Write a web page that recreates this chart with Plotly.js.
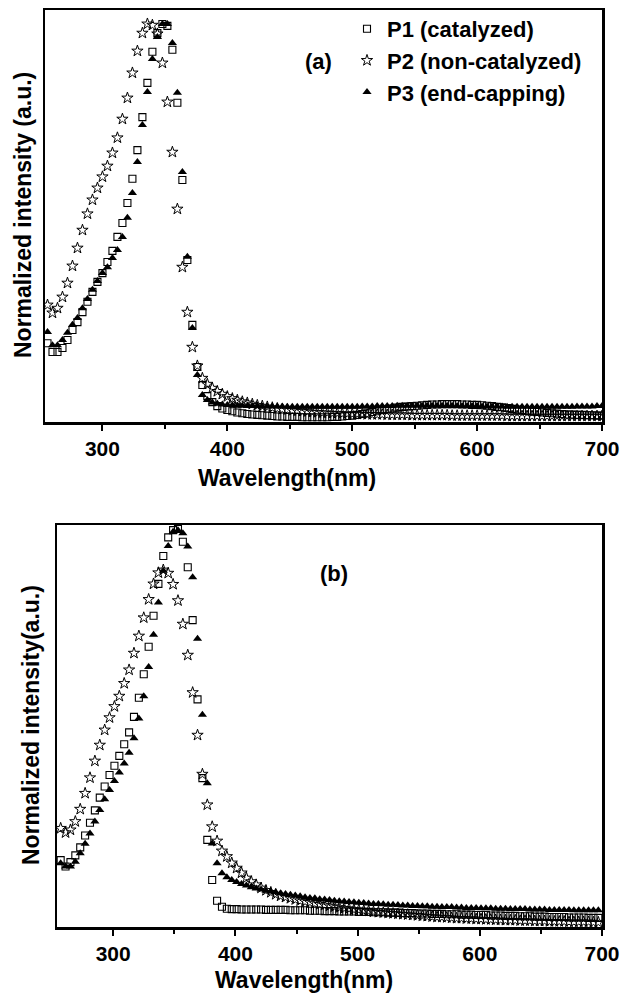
<!DOCTYPE html>
<html>
<head>
<meta charset="utf-8">
<script src="https://cdn.plot.ly/plotly-3.0.1.min.js"></script>
<style>html,body{margin:0;padding:0;background:#fff;}#chart{width:623px;height:994px;}</style>
</head>
<body>
<div id="chart"></div>
<script>
// ---- Panel (a) wavelengths (nm) ----
var waveA = [256,260,264,268,272,276,280,284,288,292,
  296,300,304,308,312,316,320,324,328,332,
  336,340,344,348,352,356,360,364,368,372,
  376,380,384,388,392,396,400,404,408,412,
  416,420,424,428,432,436,440,444,448,452,
  456,460,464,468,472,476,480,484,488,492,
  496,500,504,508,512,516,520,524,528,532,
  536,540,544,548,552,556,560,564,568,572,
  576,580,584,588,592,596,600,604,608,612,
  616,620,624,628,632,636,640,644,648,652,
  656,660,664,668,672,676,680,684,688,692,
  696,700];
var p1A = [.198,.176,.176,.186,.206,.231,.251,.276,.302,.327,
  .352,.374,.402,.430,.465,.500,.550,.611,.683,.766,
  .852,.930,.977,1.0,.995,.935,.802,.608,.407,.244,
  .138,.093,.065,.050,.040,.034,.030,.027,.024,.022,
  .020,.019,.018,.017,.016,.015,.014,.014,.013,.013,
  .013,.012,.012,.012,.012,.012,.012,.013,.013,.014,
  .015,.016,.018,.020,.022,.025,.027,.030,.032,.034,
  .036,.038,.039,.040,.041,.042,.043,.044,.044,.045,
  .045,.045,.045,.044,.044,.043,.043,.042,.041,.040,
  .038,.037,.035,.033,.031,.030,.028,.026,.025,.024,
  .023,.022,.021,.020,.019,.019,.018,.018,.017,.017,
  .016,.016];
var p2A = [.294,.274,.286,.314,.349,.392,.437,.482,.523,.558,
  .588,.616,.643,.676,.714,.761,.814,.877,.932,.977,
  1.0,.997,.975,.902,.804,.678,.535,.389,.276,.188,
  .141,.110,.095,.085,.077,.070,.064,.059,.055,.051,
  .048,.045,.042,.040,.038,.036,.034,.032,.031,.029,
  .028,.027,.026,.025,.024,.023,.023,.022,.022,.021,
  .021,.020,.020,.020,.019,.019,.019,.019,.018,.018,
  .018,.018,.018,.017,.017,.017,.017,.017,.017,.017,
  .017,.016,.016,.016,.016,.016,.016,.016,.016,.016,
  .016,.016,.015,.015,.015,.015,.015,.015,.015,.015,
  .015,.015,.015,.015,.015,.015,.015,.015,.015,.015,
  .015,.015];
var p3A = [.226,.193,.193,.206,.224,.244,.261,.286,.309,.332,
  .354,.374,.389,.412,.432,.465,.513,.575,.653,.746,
  .829,.912,.967,1.0,1.0,.952,.827,.628,.415,.236,
  .118,.068,.055,.049,.046,.044,.043,.042,.041,.041,
  .040,.040,.040,.039,.039,.039,.039,.039,.038,.038,
  .038,.038,.038,.038,.038,.038,.038,.038,.038,.038,
  .038,.038,.038,.039,.039,.039,.040,.040,.040,.040,
  .041,.041,.041,.041,.041,.041,.041,.041,.041,.041,
  .041,.041,.040,.040,.040,.040,.040,.039,.039,.039,
  .039,.039,.038,.038,.038,.038,.038,.038,.038,.038,
  .038,.038,.038,.038,.038,.038,.039,.039,.039,.039,
  .040,.040];

// ---- Panel (b) wavelengths (nm) ----
var waveB = [257,261,265,269,273,277,281,285,289,293,
  297,301,305,309,313,317,321,325,329,333,
  337,341,345,349,353,357,361,365,369,373,
  377,381,385,389,393,397,401,405,409,413,
  417,421,425,429,433,437,441,445,449,453,
  457,461,465,469,473,477,481,485,489,493,
  497,501,505,509,513,517,521,525,529,533,
  537,541,545,549,553,557,561,565,569,573,
  577,581,585,589,593,597,601,605,609,613,
  617,621,625,629,633,637,641,645,649,653,
  657,661,665,669,673,677,681,685,689,693,
  697];
var p1B = [.168,.152,.163,.180,.200,.230,.262,.293,.325,.353,
  .382,.405,.430,.459,.489,.528,.576,.635,.704,.782,
  .862,.932,.979,.997,1.0,.968,.904,.771,.572,.374,
  .219,.118,.066,.051,.046,.045,.045,.044,.044,.044,
  .044,.044,.043,.043,.043,.043,.043,.042,.042,.042,
  .042,.041,.041,.041,.040,.040,.040,.039,.039,.039,
  .039,.038,.038,.038,.037,.037,.037,.036,.036,.036,
  .035,.035,.035,.034,.034,.034,.033,.033,.033,.032,
  .032,.032,.031,.031,.031,.030,.030,.030,.029,.029,
  .029,.028,.028,.028,.027,.027,.027,.026,.026,.026,
  .025,.025,.025,.025,.024,.024,.024,.024,.023,.023,
  .023];
var p2B = [.248,.237,.244,.265,.296,.336,.375,.417,.457,.495,
  .526,.554,.580,.612,.646,.688,.731,.777,.823,.862,
  .890,.897,.889,.861,.820,.761,.683,.589,.482,.384,
  .307,.252,.216,.191,.177,.161,.148,.136,.123,.114,
  .106,.098,.092,.087,.082,.078,.075,.072,.069,.066,
  .064,.062,.059,.057,.055,.053,.051,.049,.047,.046,
  .044,.043,.041,.040,.038,.037,.036,.035,.034,.033,
  .032,.031,.030,.029,.028,.027,.026,.025,.025,.024,
  .023,.022,.022,.021,.021,.020,.020,.019,.019,.018,
  .018,.017,.017,.017,.016,.016,.016,.015,.015,.015,
  .014,.014,.014,.014,.013,.013,.013,.013,.013,.012,
  .012];
var p3B = [.160,.152,.152,.164,.185,.209,.235,.265,.294,.321,
  .344,.367,.388,.411,.438,.474,.524,.580,.653,.734,
  .815,.895,.957,.993,.997,.989,.956,.879,.724,.533,
  .361,.210,.160,.135,.125,.118,.113,.108,.104,.100,
  .097,.094,.091,.089,.087,.085,.083,.081,.079,.077,
  .075,.073,.072,.070,.069,.068,.066,.065,.064,.063,
  .062,.061,.060,.059,.058,.058,.057,.056,.056,.055,
  .054,.054,.053,.053,.052,.052,.051,.051,.050,.050,
  .050,.049,.049,.048,.048,.048,.047,.047,.047,.046,
  .046,.046,.045,.045,.045,.045,.044,.044,.044,.044,
  .043,.043,.043,.043,.043,.042,.042,.042,.042,.042,
  .042];

var seriesNames = ['P1 (catalyzed)', 'P2 (non-catalyzed)', 'P3 (end-capping)'];
var xTicks = [300, 400, 500, 600, 700];

var FONT = 'Liberation Sans, Arial, Helvetica, sans-serif';
var W = 623, H = 994;
function px(x){return x / W;}
function py(y){return 1 - y / H;}

var mSq = {symbol:'square-open', size:7, color:'#000', line:{color:'#000', width:1.1}};
var mSt = {symbol:'star-open', size:8.5, color:'#000', line:{color:'#000', width:1}};
var mTr = {symbol:'triangle-up', size:8, color:'#000', line:{color:'#000', width:0}};

var traces = [
  {x:waveA, y:p1A, name:seriesNames[0], mode:'markers', marker:mSq, xaxis:'x', yaxis:'y'},
  {x:waveA, y:p2A, name:seriesNames[1], mode:'markers', marker:mSt, xaxis:'x', yaxis:'y'},
  {x:waveA, y:p3A, name:seriesNames[2], mode:'markers', marker:mTr, xaxis:'x', yaxis:'y'},
  {x:waveB, y:p1B, name:seriesNames[0], mode:'markers', marker:mSq, xaxis:'x2', yaxis:'y2', showlegend:false},
  {x:waveB, y:p2B, name:seriesNames[1], mode:'markers', marker:mSt, xaxis:'x2', yaxis:'y2', showlegend:false},
  {x:waveB, y:p3B, name:seriesNames[2], mode:'markers', marker:mTr, xaxis:'x2', yaxis:'y2', showlegend:false}
];

function xax(domain, anchor){
  return {domain:domain, anchor:anchor, range:[254,700], tickvals:xTicks, ticktext:xTicks.map(String),
    ticks:'outside', ticklen:6, tickwidth:2, tickcolor:'#000',
    minor:{tickvals:[350,450,550,650], ticks:'outside', ticklen:4, tickwidth:2, tickcolor:'#000'},
    showline:true, linewidth:2.5, linecolor:'#000', mirror:true, showgrid:false, zeroline:false,
    tickfont:{family:FONT, size:21, color:'#000', weight:'bold'}};
}
function yax(domain, anchor, top){
  return {domain:domain, anchor:anchor, range:[0, top], showticklabels:false, ticks:'',
    showline:true, linewidth:2.5, linecolor:'#000', mirror:true, showgrid:false, zeroline:false};
}

var tf = {family:FONT, size:23, color:'#000', weight:'bold'};
var layout = {
  width:W, height:H, margin:{l:0,r:0,t:0,b:0},
  paper_bgcolor:'#fff', plot_bgcolor:'#fff', showlegend:true,
  xaxis: xax([px(45), px(602)], 'y'),
  yaxis: yax([py(422), py(10)], 'x', 1.035),
  xaxis2: xax([px(57), px(602)], 'y2'),
  yaxis2: yax([py(927), py(525)], 'x2', 1.01),
  legend:{x:px(347), y:py(8), xanchor:'left', yanchor:'top', bgcolor:'rgba(0,0,0,0)',
    font:{family:FONT, size:22, color:'#000', weight:'bold'}, itemsizing:'trace', tracegroupgap:0},
  annotations:[
    {text:'Wavelength(nm)', x:px(287), y:py(478), xref:'paper', yref:'paper', showarrow:false, xanchor:'center', yanchor:'middle', font:tf},
    {text:'Wavelength(nm)', x:px(304), y:py(980), xref:'paper', yref:'paper', showarrow:false, xanchor:'center', yanchor:'middle', font:tf},
    {text:'Normalized intensity (a.u.)', x:px(23), y:py(215), xref:'paper', yref:'paper', showarrow:false, xanchor:'center', yanchor:'middle', textangle:-90, font:tf},
    {text:'Normalized intensity(a.u.)', x:px(31), y:py(725), xref:'paper', yref:'paper', showarrow:false, xanchor:'center', yanchor:'middle', textangle:-90, font:tf},
    {text:'(a)', x:px(318), y:py(62), xref:'paper', yref:'paper', showarrow:false, xanchor:'center', yanchor:'middle', font:{family:FONT, size:22, color:'#000', weight:'bold'}},
    {text:'(b)', x:px(334), y:py(573), xref:'paper', yref:'paper', showarrow:false, xanchor:'center', yanchor:'middle', font:{family:FONT, size:22, color:'#000', weight:'bold'}}
  ]
};

Plotly.newPlot('chart', traces, layout, {displayModeBar:false, staticPlot:true});
</script>
</body>
</html>
